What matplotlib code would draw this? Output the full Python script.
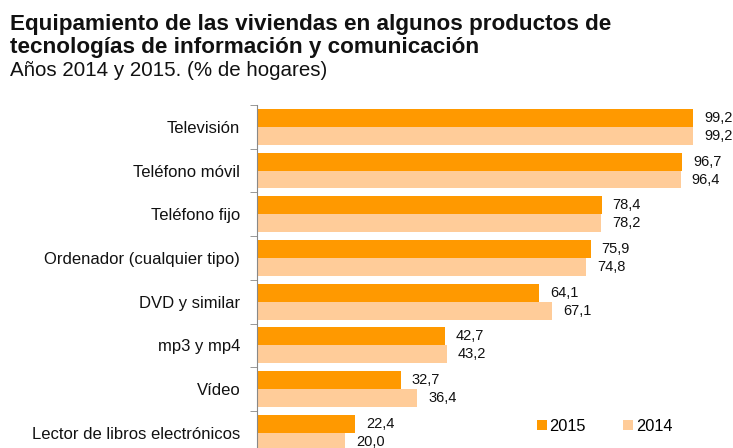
import numpy as np
import matplotlib.pyplot as plt

categorias = ["Televisión", "Teléfono móvil", "Teléfono fijo",
              "Ordenador (cualquier tipo)", "DVD y similar", "mp3 y mp4",
              "Vídeo", "Lector de libros electrónicos"]
v2015 = [99.2, 96.7, 78.4, 75.9, 64.1, 42.7, 32.7, 22.4]
v2014 = [99.2, 96.4, 78.2, 74.8, 67.1, 43.2, 36.4, 20.0]

c2015 = "#FF9900"
c2014 = "#FFCC99"

plt.rcParams['font.family'] = ['Liberation Sans', 'DejaVu Sans']

fig = plt.figure(figsize=(7.33, 4.48), dpi=100)
ax = fig.add_axes([257/733, -6.6/448, 476/733, 349.6/448])

y = np.arange(len(categorias))
h = 0.41
b1 = ax.barh(y - h/2, v2015, height=h, color=c2015, label="2015")
b2 = ax.barh(y + h/2, v2014, height=h, color=c2014, label="2014")

def fmt(v):
    return f"{v:.1f}".replace(".", ",")

for bars, vals in ((b1, v2015), (b2, v2014)):
    for bar, v in zip(bars, vals):
        ax.annotate(fmt(v), (v, bar.get_y() + bar.get_height()/2),
                    xytext=(8, 0), textcoords="offset points",
                    va="center", ha="left", fontsize=10.5, color="#111111")

ax.set_xlim(0, 108.3)
ax.set_ylim(len(categorias) - 0.5, -0.5)
ax.set_yticks(y)
ax.set_yticklabels(categorias, fontsize=12, color="#111111")
ax.tick_params(axis="y", length=0, pad=12)
ax.set_yticks(np.arange(len(categorias) + 1) - 0.5, minor=True)
ax.tick_params(axis="y", which="minor", length=5, color="#888888")
ax.set_xticks([])
for s in ("top", "right", "bottom"):
    ax.spines[s].set_visible(False)
ax.spines["left"].set_color("#888888")

ax.legend(loc="center left", bbox_to_anchor=(280/476, (454.6 - 426) / 349.6),
          ncol=2, frameon=False, borderpad=0, borderaxespad=0,
          fontsize=11.8, handlelength=0.6, handleheight=0.6, handletextpad=0.15,
          columnspacing=2.3)

fig.text(10/733, 1 - 30/448, "Equipamiento de las viviendas en algunos productos de",
         fontsize=16.2, fontweight="bold", va="baseline", ha="left", color="#111111")
fig.text(10/733, 1 - 53/448, "tecnologías de información y comunicación",
         fontsize=16.2, fontweight="bold", va="baseline", ha="left", color="#111111")
fig.text(10/733, 1 - 76/448, "Años 2014 y 2015. (% de hogares)", fontsize=14.8,
         va="baseline", ha="left", color="#111111")

fig.savefig("out.png", dpi=100)
